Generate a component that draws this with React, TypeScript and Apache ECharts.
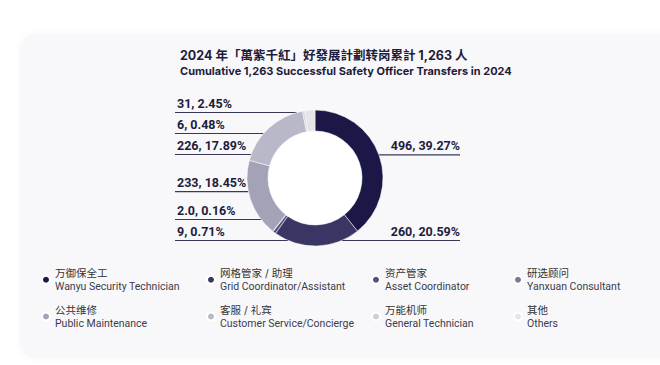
import React, { useEffect, useRef } from "react";
import * as echarts from "echarts";

const titleLine1 = "2024 年「萬紫千紅」好發展計劃转岗累計 1,263 人";
const titleLine2 = "Cumulative 1,263 Successful Safety Officer Transfers in 2024";

const namesCn = ["万御保全工", "网格管家 / 助理", "资产管家", "研选顾问", "公共维修", "客服 / 礼宾", "万能机师", "其他"];
const namesEn = [
  "Wanyu Security Technician",
  "Grid Coordinator/Assistant",
  "Asset Coordinator",
  "Yanxuan Consultant",
  "Public Maintenance",
  "Customer Service/Concierge",
  "General Technician",
  "Others",
];
const values = [496, 260, 9, 2.0, 233, 226, 6, 31];
const percents = ["39.27%", "20.59%", "0.71%", "0.16%", "18.45%", "17.89%", "0.48%", "2.45%"];
const valueLabels = ["496", "260", "9", "2.0", "233", "226", "6", "31"];
const colors = ["#1b1747", "#3a3663", "#55527a", "#7c7996", "#a3a2b7", "#b9b8c8", "#cfcfd9", "#e4e4e9"];
const legendColumns = [
  [0, 4],
  [1, 5],
  [2, 6],
  [3, 7],
];

const W = 660;
const H = 365;
const PIE_LEFT = 167;
const PIE_RIGHT = 190;
const PIE_TOP = 102;
const PIE_BOTTOM = 114;
const CX = 315;
const CY = 178;
const R_OUT = 68;
const R_IN = 47;

export default function App() {
  const ref = useRef<HTMLDivElement>(null);
  useEffect(() => {
    document.body.style.margin = "0";
    const chart = echarts.init(ref.current!, null, { renderer: "svg" });
    const fontLabel = "'Roboto', sans-serif";
    const fontCn = "'Inter', 'Noto Sans CJK SC', sans-serif";
    const fontEn = "'Roboto', sans-serif";
    const legendLefts = [41, 206, 371, 513];
    const option: any = {
      animation: false,
      backgroundColor: "#ffffff",
      graphic: [
        {
          type: "rect",
          z: -10,
          shape: { x: 20, y: 34, width: 700, height: 324, r: 16 },
          style: { fill: "#f8f8fa", shadowBlur: 6, shadowColor: "rgba(0,0,0,0.04)" },
          silent: true,
        },
      ],
      title: {
        text: titleLine1,
        subtext: titleLine2,
        left: 180,
        top: 49,
        itemGap: 4,
        padding: 0,
        textStyle: {
          fontFamily: "'Inter', 'Noto Sans CJK TC', sans-serif",
          fontWeight: "bold",
          fontSize: 12.5,
          color: "#1e1c3c",
        },
        subtextStyle: {
          fontFamily: "'Inter', 'Noto Sans CJK TC', sans-serif",
          fontWeight: "bold",
          fontSize: 11,
          color: "#1e1c3c",
        },
      },
      legend: legendColumns.map((col, i) => ({
        orient: "vertical",
        left: legendLefts[i],
        top: 268,
        padding: 0,
        itemGap: 13,
        itemWidth: 8,
        itemHeight: 8,
        icon: "circle",
        selectedMode: false,
        data: col.map((k) => ({ name: namesCn[k], itemStyle: { color: colors[k] } })),
        formatter: (name: string) => {
          const k = namesCn.indexOf(name);
          return `{cn|${name}}\n{en|${namesEn[k]}}`;
        },
        textStyle: {
          rich: {
            cn: { fontFamily: fontCn, fontSize: 10.5, lineHeight: 13, color: "#333333" },
            en: { fontFamily: fontEn, fontSize: 10.5, lineHeight: 13, color: "#3c3c4a" },
          },
        },
      })),
      series: [
        {
          type: "pie",
          left: PIE_LEFT,
          right: PIE_RIGHT,
          top: PIE_TOP,
          bottom: PIE_BOTTOM,
          center: [CX - PIE_LEFT, CY - PIE_TOP],
          radius: [R_IN, R_OUT],
          startAngle: 90,
          clockwise: true,
          avoidLabelOverlap: true,
          itemStyle: { borderColor: "#ffffff", borderWidth: 0.5 },
          emphasis: { disabled: true },
          label: {
            show: true,
            alignTo: "edge",
            edgeDistance: 10,
            minMargin: 6,
            overflow: "none",
            formatter: (p: any) => `${valueLabels[p.dataIndex]}, ${percents[p.dataIndex]}`,
            fontFamily: fontLabel,
            fontWeight: "bold",
            fontSize: 12.5,
            lineHeight: 15,
            color: "#1e1c3c",
          },
          labelLine: {
            show: true,
            length: 2,
            length2: 0,
            lineStyle: { color: "#3a3858", width: 1.2 },
          },
          labelLayout: (p: any) => {
            const r = p.labelRect;
            const isLeft = r.x + r.width / 2 < CX;
            const y = r.y + r.height / 2;
            const dy = y - CY;
            const e = Math.abs(dy) < R_OUT ? Math.sqrt(R_OUT * R_OUT - dy * dy) : 0;
            const x0 = isLeft ? CX - e : CX + e;
            const x1 = isLeft ? r.x - 2 : r.x + r.width;
            return {
              dy: -(r.height / 2 + 2),
              labelLinePoints: [[x0, y], [x0, y], [x1, y]],
            };
          },
          data: namesCn.map((n, k) => ({ name: n, value: values[k], itemStyle: { color: colors[k] } })),
        },
        {
          type: "pie",
          left: PIE_LEFT,
          right: PIE_RIGHT,
          top: PIE_TOP,
          bottom: PIE_BOTTOM,
          center: [CX - PIE_LEFT, CY - PIE_TOP],
          radius: [0, R_IN - 0.5],
          silent: true,
          label: { show: false },
          labelLine: { show: false },
          itemStyle: { color: "#ffffff" },
          data: [{ name: "", value: 1 }],
        },
      ],
    };
    chart.setOption(option);
    return () => chart.dispose();
  }, []);
  return <div ref={ref} style={{ width: W, height: H }} />;
}
